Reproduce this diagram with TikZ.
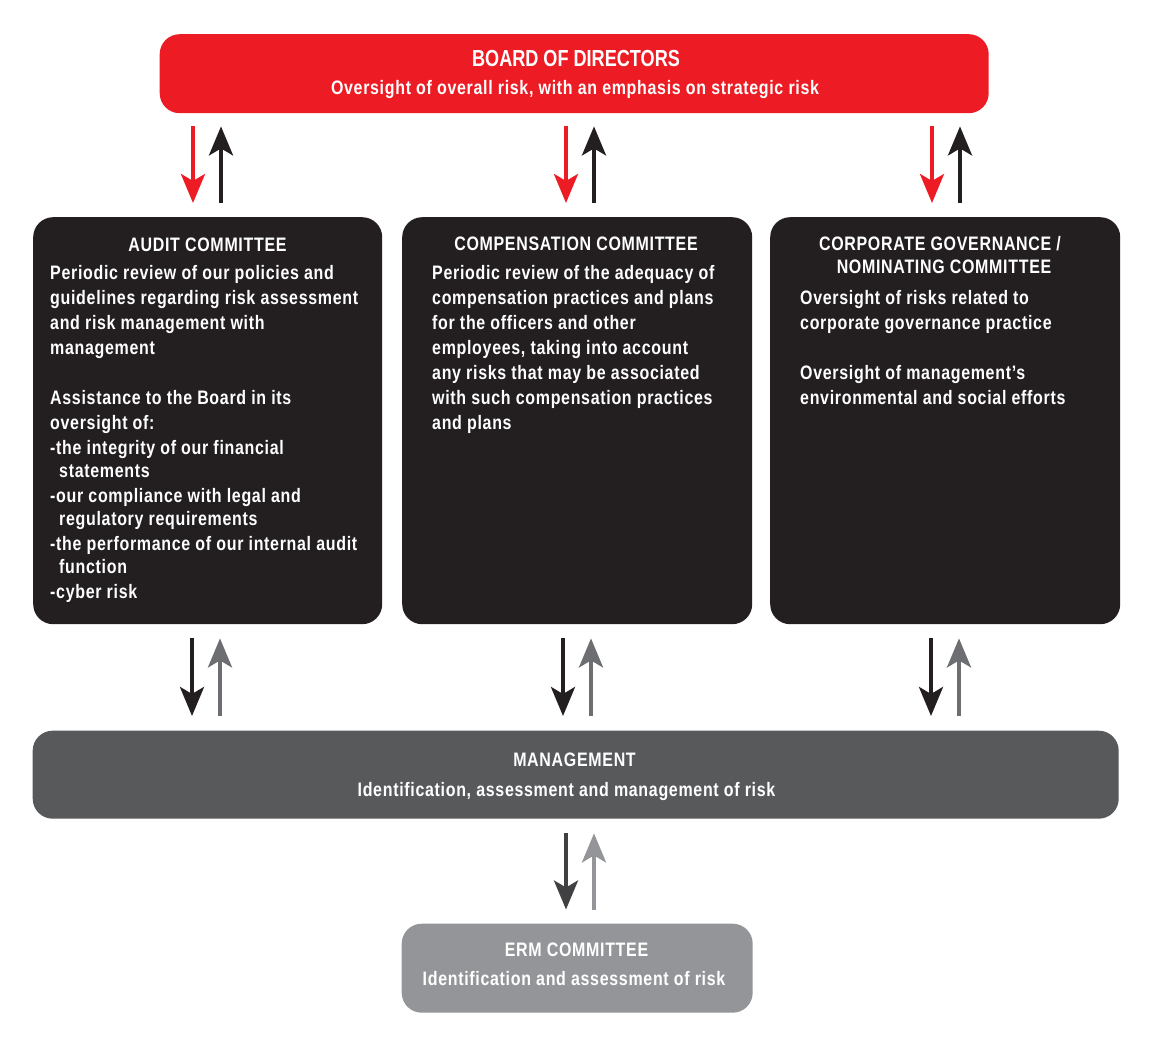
\documentclass[tikz,border=0pt]{standalone}
\usepackage{fontspec}
\usetikzlibrary{arrows.meta}
\newfontfamily\bodyf{Liberation Sans}[FakeStretch=0.82,LetterSpace=3.5]
\newfontfamily\headf{Liberation Sans}[FakeStretch=0.78]
\definecolor{bred}{HTML}{ED1C24}
\definecolor{cdark}{HTML}{231F20}
\definecolor{mgray}{HTML}{58595B}
\definecolor{agray}{HTML}{6D6E71}
\definecolor{egray}{HTML}{939598}
\definecolor{bdark}{HTML}{414042}
\tikzset{
  box/.style={rectangle, rounded corners=20pt, inner sep=0pt, anchor=north west},
  txt/.style={inner sep=0pt, text=white, font=\bodyf\bfseries\fontsize{19.5}{25}\selectfont},
  ctr/.style={txt, anchor=base},
  lft/.style={txt, anchor=base west},
  arr/.style={line width=4pt, -{Stealth[length=29pt,width=24pt,inset=7pt]}},
}
\begin{document}
\begin{tikzpicture}[x=1pt,y=-1pt]
\useasboundingbox (0,0) rectangle (1154,1048);
% boxes
\node[box, fill=bred, minimum width=829pt, minimum height=79pt] (board) at (159.5,34) {};
\node[box, fill=cdark, minimum width=349pt, minimum height=407pt] (audit) at (33,217) {};
\node[box, fill=cdark, minimum width=350pt, minimum height=407pt] (comp) at (402,217) {};
\node[box, fill=cdark, minimum width=350pt, minimum height=407pt] (gov) at (770,217) {};
\node[box, fill=mgray, minimum width=1086pt, minimum height=88pt] (mgmt) at (32.5,730.5) {};
\node[box, fill=egray, minimum width=351pt, minimum height=89pt] (erm) at (401.5,923.5) {};
% board text
\node[txt, anchor=base, font=\headf\bfseries\fontsize{23.2}{25}\selectfont] (boardT) at (576,66.7) {BOARD OF DIRECTORS};
\node[ctr] (boardS) at (575,94.5) {Oversight of overall risk, with an emphasis on strategic risk};
% audit
\node[ctr] (auditT) at (207.5,251.5) {AUDIT COMMITTEE};
\node[lft] (auditB) at (50,279.3) {\parbox[t]{330pt}{\raggedright
Periodic review of our policies and\\
guidelines regarding risk assessment\\
and risk management with\\
management\\[25pt]
Assistance to the Board in its\\
oversight of:\\
-the integrity of our financial\\[-2pt]
\hspace*{9pt}statements\\
-our compliance with legal and\\[-2pt]
\hspace*{9pt}regulatory requirements\\
-the performance of our internal audit\\[-2pt]
\hspace*{9pt}function\\
-cyber risk}};
% compensation
\node[ctr] (compT) at (576,250.5) {COMPENSATION COMMITTEE};
\node[lft] (compB) at (432,279.3) {\parbox[t]{310pt}{\raggedright
Periodic review of the adequacy of\\
compensation practices and plans\\
for the officers and other\\
employees, taking into account\\
any risks that may be associated\\
with such compensation practices\\
and plans}};
% governance
\node[ctr] (govT1) at (940,250.5) {CORPORATE GOVERNANCE /};
\node[ctr] (govT2) at (944,274) {NOMINATING COMMITTEE};
\node[lft] (govB) at (800,304.3) {\parbox[t]{310pt}{\raggedright
Oversight of risks related to\\
corporate governance practice\\[25pt]
Oversight of management’s\\
environmental and social efforts}};
% management
\node[ctr] (mgmtT) at (574.5,766) {MANAGEMENT};
\node[ctr] (mgmtS) at (566.5,796.5) {Identification, assessment and management of risk};
% erm
\node[ctr] (ermT) at (576.5,956.5) {ERM COMMITTEE};
\node[ctr] (ermS) at (574,985.5) {Identification and assessment of risk};
% arrow columns
\coordinate (a1) at (193,0); \coordinate (a2) at (221,0);
\coordinate (b1) at (566,0); \coordinate (b2) at (594,0);
\coordinate (c1) at (932,0); \coordinate (c2) at (960,0);
\coordinate (d1) at (192,0); \coordinate (d2) at (220,0);
\coordinate (e1) at (563,0); \coordinate (e2) at (591,0);
\coordinate (f1) at (931,0); \coordinate (f2) at (959,0);
\coordinate (g1) at (566,0); \coordinate (g2) at (594,0);
% board <-> committees
\draw[arr, bred, shorten <=13pt, shorten >=14pt] (board.south -| a1) -- (audit.north -| a1);
\draw[arr, cdark, shorten <=14pt, shorten >=13pt] (audit.north -| a2) -- (board.south -| a2);
\draw[arr, bred, shorten <=13pt, shorten >=14pt] (board.south -| b1) -- (comp.north -| b1);
\draw[arr, cdark, shorten <=14pt, shorten >=13pt] (comp.north -| b2) -- (board.south -| b2);
\draw[arr, bred, shorten <=13pt, shorten >=14pt] (board.south -| c1) -- (gov.north -| c1);
\draw[arr, cdark, shorten <=14pt, shorten >=13pt] (gov.north -| c2) -- (board.south -| c2);
% committees <-> management
\draw[arr, cdark, shorten <=14pt, shorten >=14.5pt] (audit.south -| d1) -- (mgmt.north -| d1);
\draw[arr, agray, shorten <=14.5pt, shorten >=14pt] (mgmt.north -| d2) -- (audit.south -| d2);
\draw[arr, cdark, shorten <=14pt, shorten >=14.5pt] (comp.south -| e1) -- (mgmt.north -| e1);
\draw[arr, agray, shorten <=14.5pt, shorten >=14pt] (mgmt.north -| e2) -- (comp.south -| e2);
\draw[arr, cdark, shorten <=14pt, shorten >=14.5pt] (gov.south -| f1) -- (mgmt.north -| f1);
\draw[arr, agray, shorten <=14.5pt, shorten >=14pt] (mgmt.north -| f2) -- (gov.south -| f2);
% management <-> erm
\draw[arr, bdark, shorten <=14.5pt, shorten >=14pt] (mgmt.south -| g1) -- (erm.north -| g1);
\draw[arr, egray, shorten <=14pt, shorten >=14.5pt] (erm.north -| g2) -- (mgmt.south -| g2);
\end{tikzpicture}
\end{document}
